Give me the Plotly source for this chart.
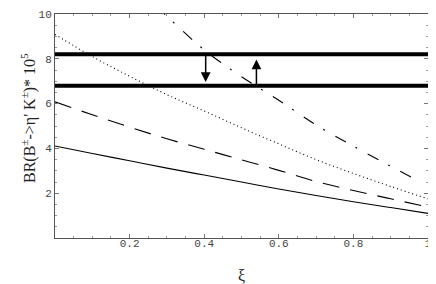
import plotly.graph_objects as go

# data
xi_grid = [0.0, 0.1, 0.2, 0.3, 0.4, 0.5, 0.6, 0.7, 0.8, 0.9, 1.0]
br_solid = [4.11, 3.77, 3.45, 3.12, 2.81, 2.50, 2.19, 1.90, 1.62, 1.36, 1.10]
br_dashed = [6.08, 5.50, 4.95, 4.43, 3.96, 3.49, 3.02, 2.52, 2.12, 1.75, 1.38]
br_dotted = [9.09, 8.10, 7.22, 6.40, 5.67, 4.92, 4.20, 3.50, 2.88, 2.30, 1.75]
xi_dashdot = [0.2, 0.3, 0.4, 0.5, 0.6, 0.7, 0.8, 0.9, 0.976]
br_dashdot = [11.5, 9.9, 8.4, 7.2, 6.15, 5.05, 4.10, 3.20, 2.54]

exp_upper = 8.2
exp_lower = 6.8

arrow_down_x = 0.404
arrow_down_tip = 6.96
arrow_up_x = 0.54
arrow_up_tip = 7.97

x_tickvals = [0.2, 0.4, 0.6, 0.8, 1.0]
x_ticktext = ["0.2", "0.4", "0.6", "0.8", "1"]
y_tickvals = [2, 4, 6, 8, 10]
y_ticktext = ["2", "4", "6", "8", "10"]

y_title = "BR(B<sup>±</sup>->η' K<sup>±</sup>)* 10<sup>5</sup>"
x_title = "ξ"

tick_font = dict(family="Liberation Mono", size=11, color="#444")

fig = go.Figure()

fig.add_trace(go.Scatter(x=[0, 1], y=[exp_upper, exp_upper], mode="lines",
                         line=dict(color="black", width=4)))
fig.add_trace(go.Scatter(x=[0, 1], y=[exp_lower, exp_lower], mode="lines",
                         line=dict(color="black", width=4)))

fig.add_trace(go.Scatter(x=xi_grid, y=br_solid, mode="lines",
                         line=dict(color="black", width=1.1, shape="spline")))
fig.add_trace(go.Scatter(x=xi_grid, y=br_dashed, mode="lines",
                         line=dict(color="black", width=1.1, dash="17px,11px", shape="spline")))
fig.add_trace(go.Scatter(x=xi_grid, y=br_dotted, mode="lines",
                         line=dict(color="black", width=1.1, dash="1px,3px", shape="spline")))
fig.add_trace(go.Scatter(x=xi_dashdot, y=br_dashdot, mode="lines",
                         line=dict(color="black", width=1.1, dash="12px,11px,2px,12px", shape="spline")))

arrow_common = dict(xref="x", yref="y", axref="x", ayref="y", text="", showarrow=True,
                    arrowhead=2, arrowsize=1.3, arrowwidth=1.5, arrowcolor="black")
fig.add_annotation(x=arrow_down_x, y=arrow_down_tip, ax=arrow_down_x, ay=exp_upper, **arrow_common)
fig.add_annotation(x=arrow_up_x, y=arrow_up_tip, ax=arrow_up_x, ay=exp_lower, **arrow_common)

# y-axis title placed as rotated text just left of the tick labels
fig.add_annotation(x=0, y=0.5, xref="paper", yref="paper", text=y_title, showarrow=False,
                   textangle=-90, xanchor="center", yanchor="middle", xshift=-27, yshift=8,
                   font=dict(family="Liberation Serif", size=16, color="#222"))

axis_common = dict(showline=True, linecolor="#555", linewidth=1, mirror="allticks",
                   ticks="inside", ticklen=4, tickcolor="#777", showgrid=False, zeroline=False,
                   ticklabeloverflow="allow", tickfont=tick_font)

fig.update_xaxes(range=[0, 1], tickmode="array", tickvals=x_tickvals, ticktext=x_ticktext,
                 minor=dict(tick0=0, dtick=0.05, ticks="inside", ticklen=2, tickcolor="#999"),
                 ticklabelstandoff=-5,
                 title=dict(text=x_title, font=dict(family="Liberation Serif", size=16, color="#222"),
                            standoff=20),
                 **axis_common)
fig.update_yaxes(range=[0, 10], tickmode="array", tickvals=y_tickvals, ticktext=y_ticktext,
                 minor=dict(tick0=0, dtick=0.5, ticks="inside", ticklen=2, tickcolor="#999"),
                 **axis_common)

# the page body adds an 8px offset, so the figure is sized to fit the remaining window
fig.update_layout(width=428, height=276, margin=dict(l=47, r=8, t=1, b=46),
                  plot_bgcolor="white", paper_bgcolor="white", showlegend=False)

fig.write_html("out.html")
